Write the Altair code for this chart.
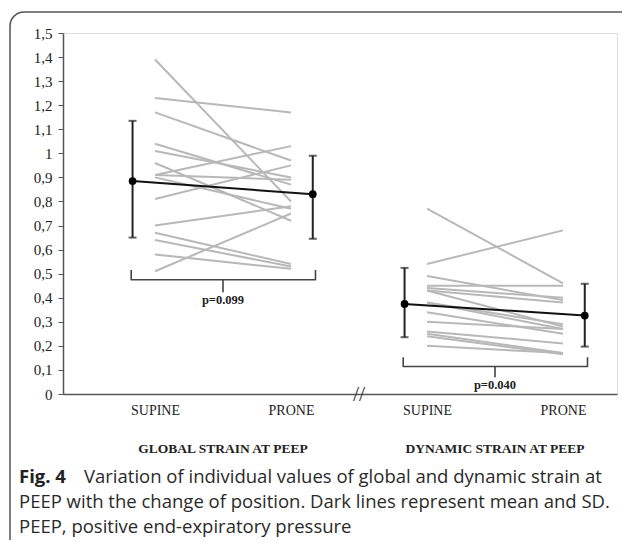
import altair as alt
import pandas as pd

# ---------------- data ----------------
position_labels = ["SUPINE", "PRONE"]
panel_titles = ["GLOBAL STRAIN AT PEEP", "DYNAMIC STRAIN AT PEEP"]
p_values = ["p=0.099", "p=0.040"]

global_supine = [1.39, 1.23, 1.17, 1.04, 1.01, 0.96, 0.91, 0.91, 0.90, 0.81, 0.70, 0.67, 0.64, 0.58, 0.51]
global_prone = [0.80, 1.17, 0.97, 0.87, 0.90, 0.72, 1.03, 0.89, 0.77, 0.95, 0.78, 0.54, 0.53, 0.52, 0.75]

dynamic_supine = [0.77, 0.54, 0.49, 0.45, 0.44, 0.43, 0.43, 0.38, 0.38, 0.34, 0.30, 0.26, 0.25, 0.24, 0.20]
dynamic_prone = [0.46, 0.68, 0.39, 0.45, 0.40, 0.38, 0.28, 0.27, 0.29, 0.25, 0.27, 0.21, 0.17, 0.165, 0.17]

global_mean = [0.885, 0.83]
global_sd_low = [0.65, 0.645]
global_sd_high = [1.135, 0.99]

dynamic_mean = [0.374, 0.326]
dynamic_sd_low = [0.236, 0.197]
dynamic_sd_high = [0.524, 0.458]

y_ticks = [round(i * 0.1, 1) for i in range(16)]

caption_bold = "Fig. 4"
caption_lines = [
    "Variation of individual values of global and dynamic strain at",
    "PEEP with the change of position. Dark lines represent mean and SD.",
    "PEEP, positive end-expiratory pressure",
]

# ---------------- tables ----------------
rows = []
for panel, (sup, pro) in enumerate([(global_supine, global_prone), (dynamic_supine, dynamic_prone)]):
    for i, (a, b) in enumerate(zip(sup, pro)):
        rows.append({"subject": f"{panel}-{i}", "pos": 1 + 2 * panel, "value": a})
        rows.append({"subject": f"{panel}-{i}", "pos": 2 + 2 * panel, "value": b})
indiv = pd.DataFrame(rows)

mean_rows = []
OFF_L, OFF_R = -0.165, 0.16
for panel, (m, lo, hi) in enumerate([(global_mean, global_sd_low, global_sd_high),
                                      (dynamic_mean, dynamic_sd_low, dynamic_sd_high)]):
    for k in range(2):
        mean_rows.append({
            "panel": panel,
            "x": 1 + 2 * panel + k + (OFF_L if k == 0 else OFF_R),
            "mean": m[k], "lo": lo[k], "hi": hi[k],
        })
means = pd.DataFrame(mean_rows)

# brace below each panel (layout levels)
brace_levels = [(0.515, 0.475, 0.425), (0.153, 0.114, 0.072)]
brace_rows = []
for panel, (top, base, tip) in enumerate(brace_levels):
    xl = 1 + 2 * panel + OFF_L - 0.01
    xr = 2 + 2 * panel + OFF_R + 0.02
    xc = 1.5 + 2 * panel
    pts = [(xl, top), (xl, base), (xc, base), (xc, tip), (xc, base), (xr, base), (xr, top)]
    for o, (x, y) in enumerate(pts):
        brace_rows.append({"panel": panel, "order": o, "x": x, "y": y})
braces = pd.DataFrame(brace_rows)

ptext = pd.DataFrame({"x": [1.5, 3.5], "y": [0.39, 0.037], "label": p_values})
titles = pd.DataFrame({"x": [1.5, 3.5], "label": panel_titles})
brk = pd.DataFrame({"x": [2.5], "y": [0.0], "label": ["//"]})
one = pd.DataFrame({"k": [0]})

XDOM = [0.3235, 4.397]
xs = alt.Scale(domain=XDOM, nice=False, zero=False)
ys = alt.Scale(domain=[0, 1.5], nice=False)

serif = "Liberation Serif"

x_axis = alt.Axis(values=[1, 2, 3, 4], labelExpr="datum.value % 2 == 1 ? 'SUPINE' : 'PRONE'",
                  ticks=False, grid=False, title=None, labelFont=serif, labelFontSize=14,
                  labelColor="#222", labelPadding=9, domainColor="#555", domainWidth=1.5,
                  labelAngle=0)
y_axis = alt.Axis(values=y_ticks, labelExpr="replace(format(datum.value, '~g'), '.', ',')",
                  grid=False, title=None, labelFont=serif, labelFontSize=15, labelColor="#222",
                  labelOverlap=False, tickSize=5, tickColor="#555", domainColor="#555",
                  domainWidth=1.5, labelPadding=6)


def X(field):
    return alt.X(field, type="quantitative", scale=xs, axis=x_axis)


def Y(field):
    return alt.Y(field, type="quantitative", scale=ys, axis=y_axis)


lines = alt.Chart(indiv).mark_line(color="#b8b8b8", strokeWidth=2).encode(
    x=X("pos"), y=Y("value"), detail="subject:N")

mean_line = alt.Chart(means).mark_line(color="#111", strokeWidth=2).encode(
    x=X("x"), y=Y("mean"), detail="panel:N")
err = alt.Chart(means).mark_rule(color="#222", strokeWidth=2).encode(
    x=X("x"), y=Y("lo"), y2="hi:Q")
cap_lo = alt.Chart(means).mark_tick(color="#222", thickness=2, size=8, orient="horizontal").encode(
    x=X("x"), y=Y("lo"))
cap_hi = alt.Chart(means).mark_tick(color="#222", thickness=2, size=8, orient="horizontal").encode(
    x=X("x"), y=Y("hi"))
pts = alt.Chart(means).mark_point(filled=True, color="#000", size=60, opacity=1).encode(
    x=X("x"), y=Y("mean"))

brace = alt.Chart(braces).mark_line(color="#444", strokeWidth=1.6, strokeJoin="round").encode(
    x=X("x"), y=Y("y"), order="order:Q", detail="panel:N")

ptxt = alt.Chart(ptext).mark_text(font=serif, fontSize=12.5, fontWeight="bold", color="#222",
                                  baseline="middle").encode(
    x=X("x"), y=Y("y"), text="label:N")

brk_txt = alt.Chart(brk).mark_text(font=serif, fontSize=22, color="#333", baseline="middle").encode(
    x=X("x"), y=Y("y"), text="label:N")

ttl = alt.Chart(titles).mark_text(font=serif, fontSize=13.5, fontWeight="bold", color="#222",
                                  baseline="middle").encode(
    x=X("x"), y=alt.value(416), text="label:N")

cap_font = "Open Sans"
CAP_SIZE = 18.5
cap0 = alt.Chart(one).mark_text(font=cap_font, fontSize=CAP_SIZE, fontWeight="bold", color="#222",
                                align="left", baseline="middle", text=caption_bold).encode(
    x=alt.value(-44), y=alt.value(444))
cap1 = alt.Chart(one).mark_text(font=cap_font, fontSize=CAP_SIZE, color="#2a2a2a", align="left",
                                baseline="middle", text=caption_lines[0]).encode(
    x=alt.value(21), y=alt.value(444))
cap2 = alt.Chart(one).mark_text(font=cap_font, fontSize=CAP_SIZE, color="#2a2a2a", align="left",
                                baseline="middle", text=caption_lines[1]).encode(
    x=alt.value(-44), y=alt.value(469))
cap3 = alt.Chart(one).mark_text(font=cap_font, fontSize=CAP_SIZE, color="#2a2a2a", align="left",
                                baseline="middle", text=caption_lines[2]).encode(
    x=alt.value(-44), y=alt.value(494))

frame = alt.Chart(one).mark_rect(fill=None, stroke="#555", strokeWidth=1.5, cornerRadius=14).encode(
    x=alt.value(-53), x2=alt.value(620), y=alt.value(-21), y2=alt.value(560))

chart = alt.layer(
    lines, frame, brace, mean_line, err, cap_lo, cap_hi, pts, ptxt, brk_txt, ttl,
    cap0, cap1, cap2, cap3,
).properties(
    width=554, height=361,
    autosize=alt.AutoSizeParams(type="none"),
    padding={"left": 55, "top": 25, "right": 5, "bottom": 146},
).configure_view(stroke=None).configure(background="white")

chart.save("out.html", embed_options={"renderer": "svg", "actions": False})
